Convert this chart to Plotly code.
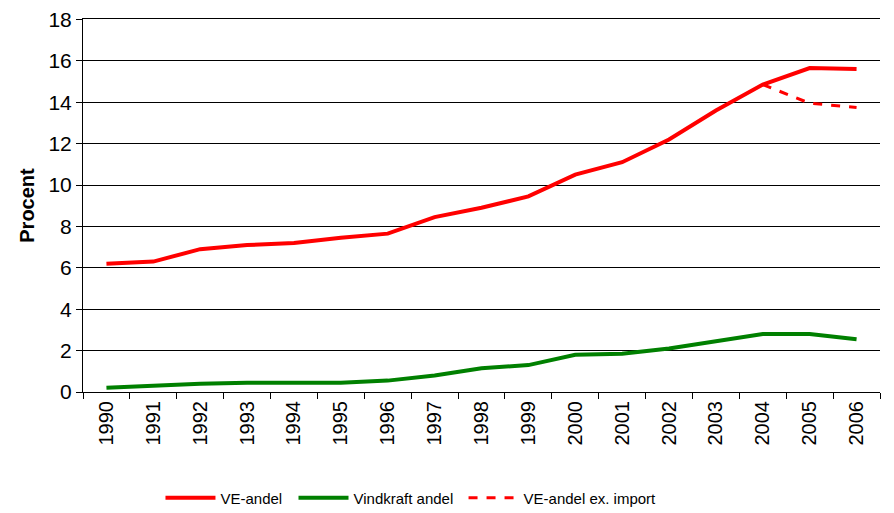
import plotly.graph_objects as go

years = [str(y) for y in range(1990, 2007)]
ve_andel = [6.2, 6.3, 6.9, 7.1, 7.2, 7.45, 7.65, 8.45, 8.9, 9.45, 10.5, 11.1, 12.2, 13.6, 14.85, 15.65, 15.6]
vindkraft = [0.2, 0.3, 0.4, 0.45, 0.45, 0.45, 0.55, 0.8, 1.15, 1.3, 1.8, 1.85, 2.1, 2.45, 2.8, 2.8, 2.55]
ex_years = ["2004", "2005", "2006"]
ve_ex_import = [14.85, 13.95, 13.75]
y_ticks = [0, 2, 4, 6, 8, 10, 12, 14, 16, 18]

font = "Liberation Sans, Arial, sans-serif"
legend_font = dict(family=font, size=15)

fig = go.Figure()
fig.add_trace(go.Scatter(x=years, y=ve_andel, mode="lines", name="VE-andel",
                         line=dict(color="#ff0000", width=4), legend="legend"))
fig.add_trace(go.Scatter(x=years, y=vindkraft, mode="lines", name="Vindkraft andel",
                         line=dict(color="#008000", width=4), legend="legend2"))
fig.add_trace(go.Scatter(x=ex_years, y=ve_ex_import, mode="lines", name="VE-andel ex. import",
                         line=dict(color="#ff0000", width=3, dash="dash"), legend="legend3"))

def leg(x):
    return dict(orientation="h", x=x, xref="container", xanchor="left",
                y=0.029, yref="container", yanchor="middle", itemwidth=50,
                font=legend_font, bgcolor="rgba(0,0,0,0)")

fig.update_layout(
    width=894, height=513,
    margin=dict(l=83, r=14, t=19, b=121, autoexpand=False),
    paper_bgcolor="white", plot_bgcolor="white",
    font=dict(family=font, size=20, color="black"),
    showlegend=True,
    legend=leg(0.1795),
    legend2=leg(0.3283),
    legend3=leg(0.5185),
    xaxis=dict(type="category", tickangle=-90, ticks="outside", ticklen=6,
               tickson="boundaries", showline=True, linecolor="black", linewidth=1,
               mirror=True,
               showgrid=False, tickcolor="black", range=[-0.5, 16.5],
               automargin=False, tickfont=dict(size=20)),
    yaxis=dict(range=[0, 18.02], tickvals=y_ticks,
               ticks="outside", ticklen=6, tickcolor="black",
               showline=True, linecolor="black", linewidth=1,
               showgrid=True, gridcolor="black", gridwidth=1,
               zeroline=False, tickfont=dict(size=21), automargin=False,
               title=dict(text="<b>Procent</b>", font=dict(size=20), standoff=8)),
)

fig.write_html("out.html", config={"displayModeBar": False},
               post_script="document.body.style.margin='0';document.body.style.overflow='hidden';")
